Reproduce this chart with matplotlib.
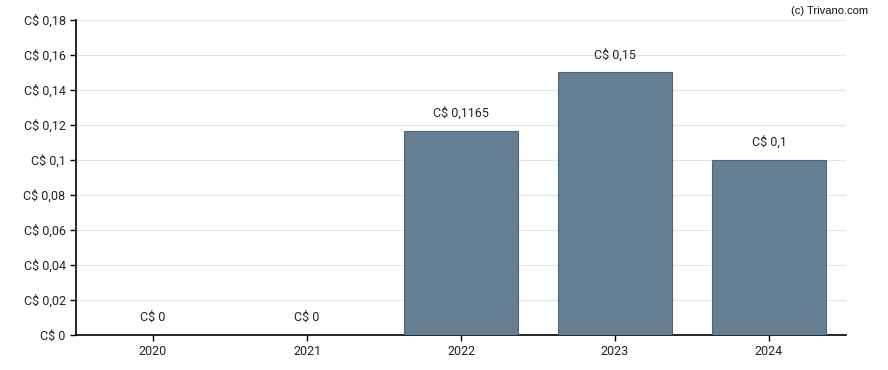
import matplotlib.pyplot as plt

plt.rcParams['font.family'] = ['Roboto', 'DejaVu Sans']

years = ['2020', '2021', '2022', '2023', '2024']
dividends = [0, 0, 0.1165, 0.15, 0.1]
value_labels = ['C$ 0', 'C$ 0', 'C$ 0,1165', 'C$ 0,15', 'C$ 0,1']
yticks = [0, 0.02, 0.04, 0.06, 0.08, 0.1, 0.12, 0.14, 0.16, 0.18]
ytick_labels = ['C$ 0', 'C$ 0,02', 'C$ 0,04', 'C$ 0,06', 'C$ 0,08', 'C$ 0,1',
                'C$ 0,12', 'C$ 0,14', 'C$ 0,16', 'C$ 0,18']

fig = plt.figure(figsize=(8.88, 3.7), dpi=100)
ax = fig.add_axes([0.0856, 0.0946, 0.8671, 0.8514])

x = range(len(years))
ax.bar(x, dividends, width=0.745, color='#667f92', edgecolor='#4d6477',
       linewidth=0.8, zorder=3)

for i, (v, lab) in enumerate(zip(dividends, value_labels)):
    ax.annotate(lab, (i, v), xytext=(0, 8), textcoords='offset points',
                ha='center', va='bottom', fontsize=9, color='#222222')

ax.set_xlim(-0.5, 4.5)
ax.set_ylim(0, 0.18)
ax.set_xticks(list(x))
ax.set_xticklabels(years)
ax.set_yticks(yticks)
ax.set_yticklabels(ytick_labels)
ax.tick_params(labelsize=9, colors='#222222', length=4, width=1)
ax.tick_params(axis='both', color='black')
ax.grid(axis='y', color='#e6e6e6', linewidth=0.8, zorder=0)
for s in ['top', 'right']:
    ax.spines[s].set_visible(False)
for s in ['left', 'bottom']:
    ax.spines[s].set_color('black')
    ax.spines[s].set_linewidth(1.2)

fig.text(0.978, 0.985, '(c) Trivano.com', ha='right', va='top', fontsize=8,
         family=['Liberation Sans', 'DejaVu Sans'], color='#111111')

fig.savefig('out.png', dpi=100)
